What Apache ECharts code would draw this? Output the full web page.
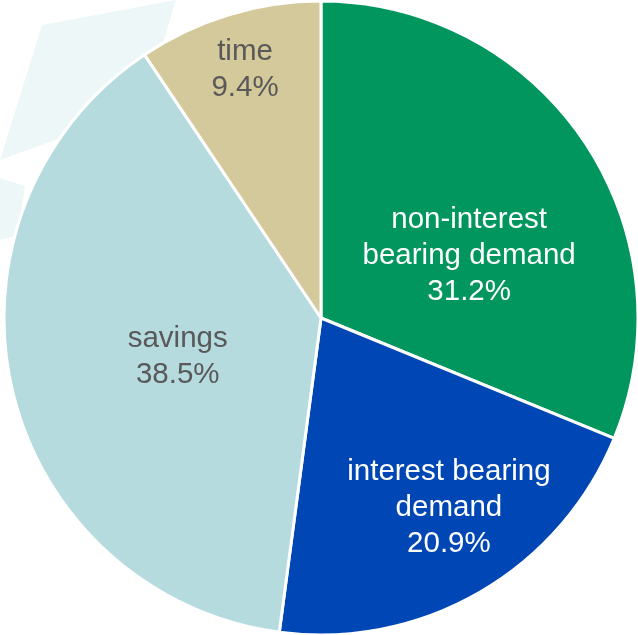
<!DOCTYPE html>
<html>
<head>
<meta charset="utf-8">
<script src="https://cdn.jsdelivr.net/npm/echarts@6/dist/echarts.min.js"></script>
<style>html,body{margin:0;padding:0;background:#fff;}#c{width:638px;height:635px;}</style>
</head>
<body>
<div id="c"></div>
<script>
var categories = ['non-interest\nbearing demand', 'interest bearing\ndemand', 'savings', 'time'];
var shares = [31.2, 20.9, 38.5, 9.4];

var colors = ['#00965e', '#0047b5', '#b6dbdf', '#d3c99b'];
var textColors = ['#ffffff', '#ffffff', '#595959', '#595959'];
var offsets = [[14, 28], [47, 50], [14, 2], [-29, -94]];

var labelFont = {fontFamily: '"Liberation Sans", Arial, sans-serif', fontSize: 29.5, lineHeight: 36, fontWeight: 'normal', align: 'center'};

var chart = echarts.init(document.getElementById('c'), null, {renderer: 'canvas'});
chart.setOption({
  animation: false,
  backgroundColor: '#ffffff',
  graphic: [
    {type: 'polygon', z: -10, shape: {points: [[0,160],[42,25],[176,0],[160,52],[55,140]]}, style: {fill: '#eef7f8'}},
    {type: 'polygon', z: -10, shape: {points: [[0,178],[25,186],[18,235],[0,240]]}, style: {fill: '#eef7f8'}}
  ],
  series: [{
    type: 'pie',
    center: [321, 318],
    radius: [0, 317],
    startAngle: 90,
    clockwise: true,
    avoidLabelOverlap: false,
    itemStyle: {borderColor: '#ffffff', borderWidth: 3},
    labelLine: {show: false},
    emphasis: {disabled: true},
    label: {
      show: true,
      position: 'inside',
      formatter: function (p) { return '{t|' + p.name.split('\n').join('}\n{t|') + '}\n{t|' + p.value.toFixed(1) + '%}'; }
    },
    data: categories.map(function (c, i) {
      return {
        name: c,
        value: shares[i],
        itemStyle: {color: colors[i]},
        label: {
          color: textColors[i],
          offset: offsets[i],
          rich: {t: Object.assign({color: textColors[i]}, labelFont)}
        }
      };
    })
  }]
});
</script>
</body>
</html>
